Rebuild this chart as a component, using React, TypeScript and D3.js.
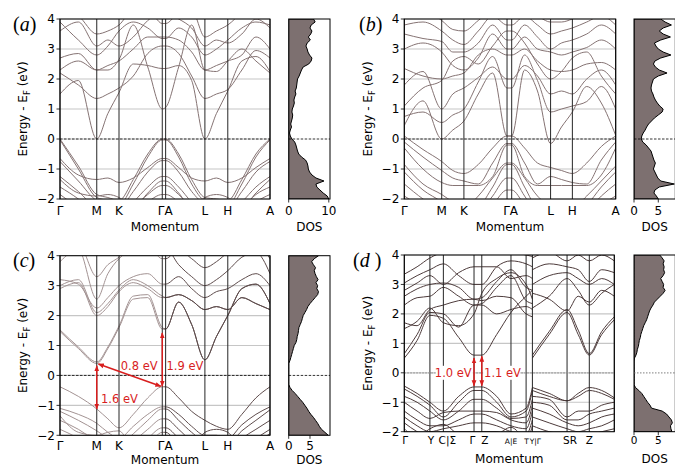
import React from "react";
import * as d3 from "d3";

// ---------------- data ----------------
const ENERGY_TICKS = [-2, -1, 0, 1, 2, 3, 4];
const E_GRID = d3.range(61).map((i) => -2 + i / 10);

const HEX_LABELS = ["Γ", "M", "K", "Γ", "A", "L", "H", "A"];
const HEX_TICK_IDX = [0, 2, 4, 7, 8, 11, 13, 16];
const K_AC = [0, 0.0875, 0.175, 0.228, 0.281, 0.349, 0.418, 0.487, 0.503, 0.565, 0.627, 0.69, 0.745, 0.799, 0.866, 0.933, 1.0];
const K_B = [0, 0.0885, 0.177, 0.2295, 0.282, 0.35, 0.418, 0.486, 0.508, 0.569, 0.63, 0.692, 0.7435, 0.795, 0.863, 0.932, 1.0];

const BANDS_A = [
  [1.5, 1.95, 0.0, 0.85, 1.55, 2.5, 2.45, 2.35, 2.35, 2.45, 1.95, 0.0, 0.85, 1.6, 2.6, 2.75, 2.25],
  [2.3, 2.6, 2.3, 2.3, 2.65, 3.8, 2.4, 1.0, 1.05, 2.4, 3.8, 2.3, 2.25, 2.6, 3.0, 2.6, 2.2],
  [2.2, 1.8, 1.35, 1.5, 1.7, 2.1, 2.85, 3.1, 3.1, 2.85, 2.1, 1.35, 1.5, 1.65, 2.3, 2.95, 2.7],
  [2.7, 2.85, 2.3, 2.45, 2.6, 3.0, 3.4, 3.4, 3.4, 3.3, 2.9, 2.3, 2.45, 2.6, 2.8, 3.4, 3.0],
  [3.9, 3.3, 2.8, 3.1, 3.6, 3.9, 3.7, 3.35, 3.35, 3.7, 3.4, 2.8, 3.0, 3.3, 3.7, 3.9, 3.8],
  [4.3, 4.1, 3.5, 3.6, 3.8, 4.3, 4.3, 3.85, 3.85, 4.2, 4.3, 3.4, 3.6, 3.8, 4.2, 4.4, 4.3],
  [3.6, 3.9, 3.1, 3.3, 3.1, 3.4, 3.95, 4.2, 4.2, 4.0, 3.7, 3.1, 3.3, 3.2, 3.5, 4.0, 3.7],
  [0, -0.9, -1.85, -1.95, -2.05, -1.35, -0.5, 0, 0, -0.5, -1.35, -1.95, -2.0, -2.05, -1.35, -0.5, 0],
  [-0.03, -1.0, -1.95, -2.05, -2.2, -1.5, -0.6, -0.03, -0.03, -0.6, -1.5, -2.05, -2.1, -2.2, -1.5, -0.6, -0.03],
  [-0.65, -1.2, -1.35, -1.3, -1.45, -1.3, -0.95, -0.65, -0.65, -0.95, -1.3, -1.4, -1.3, -1.45, -1.3, -0.95, -0.65],
  [-0.75, -1.4, -2.05, -2.15, -2.3, -1.75, -1.1, -0.72, -0.72, -1.1, -1.75, -2.15, -2.2, -2.3, -1.75, -1.1, -0.75],
  [-1.25, -1.75, -2.3, -2.4, -2.5, -2.1, -1.6, -1.25, -1.25, -1.6, -2.1, -2.4, -2.4, -2.5, -2.1, -1.6, -1.25],
  [-1.6, -2.0, -2.5, -2.6, -2.7, -2.3, -1.85, -1.55, -1.55, -1.85, -2.3, -2.6, -2.6, -2.7, -2.3, -1.85, -1.6],
  [-1.85, -2.3, -2.8, -2.8, -2.9, -2.5, -2.1, -1.85, -1.85, -2.1, -2.5, -2.8, -2.8, -2.9, -2.5, -2.1, -1.85],
  [-1.35, -1.8, -1.9, -1.85, -1.95, -2.3, -1.8, -1.4, -1.4, -1.8, -2.3, -1.95, -1.85, -1.95, -2.3, -1.8, -1.35],
];

const BANDS_B = [
  [0.45, 1.27, 0.0, 0.3, 0.6, 1.5, 2.2, 0.1, 0.1, 2.3, 1.6, -0.15, 0.4, 0.9, 1.75, 1.2, 0.12],
  [0.75, 0.9, 0.55, 0.8, 1.0, 1.9, 2.75, 1.7, 1.7, 2.8, 1.95, 0.9, 1.0, 1.1, 1.25, 1.75, 1.0],
  [1.8, 2.25, 1.0, 1.5, 1.7, 2.05, 2.4, 2.0, 2.0, 2.45, 2.1, 1.5, 1.6, 1.5, 2.0, 2.3, 1.8],
  [2.35, 2.1, 2.0, 2.1, 2.2, 2.8, 3.0, 2.8, 2.8, 3.0, 2.6, 2.3, 2.25, 2.3, 2.5, 2.55, 2.3],
  [3.0, 3.2, 2.9, 2.45, 2.3, 2.7, 3.5, 3.0, 3.0, 3.4, 3.0, 2.9, 2.8, 2.9, 3.05, 3.3, 3.0],
  [3.5, 3.35, 3.25, 2.9, 2.9, 3.2, 3.8, 3.3, 3.3, 3.8, 3.4, 3.0, 3.2, 3.3, 3.5, 3.8, 3.5],
  [3.8, 3.9, 3.6, 3.3, 3.15, 3.6, 4.1, 3.8, 3.8, 4.1, 3.8, 3.5, 3.6, 3.7, 3.9, 4.1, 3.8],
  [4.2, 4.3, 3.95, 3.65, 3.6, 3.95, 4.3, 4.1, 4.1, 4.3, 4.1, 3.9, 3.9, 4.0, 4.2, 4.4, 4.1],
  [1.1, 1.7, 1.95, 2.6, 2.75, 2.5, 3.1, 3.6, 3.6, 3.2, 2.5, 2.0, 2.25, 2.7, 2.9, 2.1, 1.5],
  [0.1, -0.35, -0.75, -1.05, -1.15, -0.85, -0.3, 0.1, 0.1, -0.3, -0.8, -0.95, -1.05, -1.15, -0.8, -0.25, 0.1],
  [-0.1, -0.6, -1.05, -1.3, -1.4, -1.5, -0.8, -0.15, -0.15, -0.8, -1.5, -1.25, -1.35, -1.45, -1.5, -0.7, -0.1],
  [-0.3, -1.0, -1.45, -1.55, -1.55, -1.55, -1.25, -0.2, -0.2, -1.25, -1.55, -1.55, -1.55, -1.55, -1.55, -1.2, -0.3],
  [-0.85, -1.5, -1.85, -2.1, -2.3, -1.9, -1.3, -0.8, -0.8, -1.3, -1.9, -2.2, -2.2, -2.3, -1.9, -1.4, -0.9],
  [-1.1, -1.7, -2.1, -2.4, -2.5, -2.3, -1.6, -0.85, -0.85, -1.6, -2.3, -2.4, -2.4, -2.5, -2.2, -1.6, -1.1],
  [-1.5, -2.0, -2.4, -2.6, -2.7, -2.5, -1.9, -1.3, -1.3, -1.9, -2.5, -2.6, -2.6, -2.7, -2.4, -1.9, -1.5],
  [-1.9, -2.3, -2.7, -2.8, -2.9, -2.7, -2.2, -1.7, -1.7, -2.2, -2.7, -2.8, -2.8, -2.9, -2.6, -2.2, -1.9],
];

const BANDS_C = [
  [1.47, 0.9, 0.4, 0.9, 1.6, 2.55, 2.6, 1.55, 1.55, 2.45, 1.7, 0.52, 1.3, 2.0, 2.9, 3.05, 2.4],
  [1.52, 0.95, 0.45, 0.95, 1.65, 2.65, 2.7, 1.6, 1.55, 2.45, 1.7, 0.52, 1.3, 2.0, 2.9, 3.05, 2.4],
  [2.9, 3.1, 2.0, 2.3, 2.8, 3.1, 2.9, 2.6, 2.6, 2.7, 2.5, 2.2, 2.3, 2.2, 2.6, 2.4, 2.2],
  [3.0, 3.2, 2.1, 2.4, 2.85, 3.2, 3.0, 2.65, 2.6, 2.7, 2.5, 2.2, 2.3, 2.2, 2.6, 2.4, 2.2],
  [3.2, 3.05, 2.25, 2.6, 3.0, 3.3, 3.4, 3.05, 3.05, 3.3, 2.9, 2.6, 2.8, 2.9, 3.2, 3.4, 3.0],
  [3.8, 4.2, 2.55, 3.4, 3.9, 4.2, 4.3, 3.9, 3.9, 4.2, 3.9, 3.6, 3.8, 4.1, 4.3, 4.4, 3.9],
  [4.3, 4.4, 3.3, 3.7, 3.95, 4.4, 4.5, 4.25, 4.25, 3.7, 3.3, 3.0, 3.2, 3.5, 3.95, 4.1, 3.4],
  [-0.38, -0.7, -1.12, -1.45, -1.75, -1.3, -0.75, -0.38, -0.38, -0.75, -1.2, -1.5, -1.7, -1.8, -1.3, -0.75, -0.38],
  [-1.1, -1.3, -1.6, -1.9, -2.1, -1.7, -1.3, -1.05, -1.05, -1.3, -1.7, -2.0, -2.0, -2.1, -1.65, -1.3, -1.05],
  [-1.2, -1.5, -1.85, -2.1, -2.3, -1.95, -1.5, -1.12, -1.12, -1.5, -1.9, -2.2, -2.2, -2.3, -1.85, -1.5, -1.15],
  [-1.5, -1.8, -2.2, -2.4, -2.5, -2.2, -1.8, -1.45, -1.45, -1.8, -2.2, -2.4, -2.4, -2.5, -2.1, -1.8, -1.5],
  [-1.8, -2.1, -2.5, -2.6, -2.7, -2.5, -2.1, -1.75, -1.75, -2.1, -2.5, -2.6, -2.6, -2.7, -2.4, -2.1, -1.8],
  [-1.35, -1.9, -2.0, -1.9, -1.85, -2.4, -2.3, -1.9, -1.9, -2.3, -2.5, -1.9, -1.8, -1.9, -2.4, -2.2, -1.95],
];

const D_LABELS = ["Γ", "Y", "C|Σ", "Γ", "Z", "A|E", "T", "Y|Γ", "SR", "Z", ""];
const D_TICKS = [0, 0.122, 0.186, 0.332, 0.369, 0.508, 0.58, 0.61, 0.775, 0.881, 1.0];
const D_SMALL = ["A|E", "T", "Y|Γ"];
const K_DL = [0, 0.061, 0.122, 0.186, 0.259, 0.332, 0.369, 0.44, 0.508, 0.58, 0.61];
const K_DR = [0.61, 0.69, 0.775, 0.828, 0.881, 0.94, 1.0];
const BANDS_DL = [
  [0.5, 1.1, 1.95, 1.85, 1.2, 0.6, 0.6, 1.3, 2.05, 2.6, 2.8],
  [0.65, 1.3, 2.05, 2.0, 1.55, 2.3, 2.3, 2.0, 2.15, 2.25, 2.15],
  [1.7, 1.6, 2.15, 2.3, 2.45, 2.5, 2.45, 2.6, 2.55, 2.0, 1.9],
  [2.3, 2.55, 2.6, 2.9, 2.6, 2.3, 2.35, 2.9, 3.3, 2.45, 2.35],
  [2.6, 2.85, 3.0, 3.05, 2.9, 2.5, 2.55, 3.1, 3.5, 2.9, 2.8],
  [2.8, 3.05, 3.3, 3.0, 3.4, 3.6, 3.6, 3.6, 3.2, 3.3, 3.2],
  [3.05, 3.3, 3.5, 3.7, 3.3, 3.0, 3.0, 3.6, 3.8, 3.7, 3.6],
  [3.35, 3.6, 3.9, 4.1, 4.2, 4.25, 4.25, 4.2, 4.1, 4.0, 3.95],
  [1.5, 1.75, 2.2, 1.7, 1.6, 2.0, 2.7, 3.2, 3.4, 3.0, 2.5],
  [-0.45, -0.7, -1.0, -1.3, -0.8, -0.48, -0.48, -0.8, -1.4, -1.2, -0.5],
  [-0.55, -0.8, -1.1, -1.5, -1.0, -0.6, -0.6, -1.0, -1.5, -1.3, -0.6],
  [-0.8, -1.0, -1.3, -1.6, -1.3, -0.9, -0.9, -1.2, -1.55, -1.5, -0.9],
  [-1.0, -1.3, -1.55, -1.35, -1.3, -1.3, -1.3, -1.35, -1.6, -1.7, -1.1],
  [-1.3, -1.6, -1.8, -1.8, -1.6, -1.4, -1.4, -1.6, -1.8, -1.9, -1.3],
  [-1.5, -1.8, -2.0, -1.9, -1.8, -1.7, -1.7, -1.8, -2.0, -2.1, -1.6],
  [-1.7, -2.0, -2.2, -2.1, -2.0, -2.0, -2.0, -2.0, -2.2, -2.3, -1.8],
  [-1.9, -2.2, -1.9, -1.75, -2.1, -2.2, -2.2, -2.1, -1.85, -2.2, -2.0],
];
const BANDS_DR = [
  [0.5, 1.3, 2.05, 1.3, 0.6, 1.3, 1.8],
  [0.6, 1.4, 2.15, 1.45, 0.65, 1.4, 1.9],
  [2.2, 2.6, 3.2, 2.8, 2.3, 2.7, 3.0],
  [2.7, 2.5, 2.1, 2.6, 2.4, 2.8, 2.6],
  [3.0, 3.3, 3.4, 3.2, 3.0, 3.2, 3.0],
  [3.5, 3.7, 3.6, 3.5, 3.1, 3.5, 3.4],
  [3.9, 4.1, 3.8, 4.0, 3.8, 4.0, 3.8],
  [-0.5, -0.7, -0.95, -0.7, -0.5, -0.6, -0.85],
  [-0.6, -0.8, -0.95, -0.8, -0.6, -0.7, -0.9],
  [-0.8, -0.9, -1.5, -1.3, -1.3, -1.1, -1.0],
  [-1.0, -1.1, -1.6, -1.6, -1.4, -1.3, -1.2],
  [-1.2, -1.4, -1.7, -1.8, -1.7, -1.5, -1.4],
  [-1.5, -1.7, -1.9, -2.0, -1.9, -1.8, -1.6],
  [-1.8, -2.0, -2.1, -2.2, -2.1, -2.0, -1.9],
];

// DOS sampled at E = -2.0 ... 4.0 (step 0.1)
const DOS_A = [
  10.0, 9.6, 8.6, 7.8, 7.0, 6.8, 8.8, 6.8, 5.8, 5.2,
  4.9, 4.8, 4.6, 4.2, 3.2, 2.5, 2.2, 2.0, 1.8, 1.5,
  0.8, 0.4, 0.2, 0.4, 0.7, 0.5, 0.7, 0.9, 1.0, 0.8,
  0.9, 1.2, 1.4, 1.3, 1.5, 1.8, 1.6, 1.9, 2.0, 2.1,
  2.2, 2.6, 2.9, 3.2, 3.6, 5.0, 5.6, 5.8, 5.2, 4.8,
  4.6, 4.3, 4.6, 5.4, 4.9, 5.5, 5.8, 5.3, 5.6, 6.6,
  6.2,
];
const DOS_B = [
  5.0, 4.6, 4.1, 4.3, 5.2, 8.3, 5.5, 4.9, 4.6, 4.3,
  4.0, 4.2, 4.4, 4.1, 3.9, 3.7, 3.5, 3.0, 2.5, 1.8,
  1.5, 1.6, 1.9, 2.3, 2.6, 3.0, 3.6, 4.2, 5.0, 5.8,
  6.0, 5.3, 4.8, 4.4, 4.1, 3.9, 3.6, 3.5, 3.6, 3.8,
  4.0, 5.0, 6.8, 5.2, 4.4, 4.0, 4.3, 5.5, 7.6, 6.0,
  5.0, 4.5, 4.2, 5.5, 7.5, 6.0, 5.2, 6.0, 7.7, 6.4,
  5.5,
];
const DOS_C = [
  9.3, 8.5, 7.7, 7.2, 6.8, 6.3, 5.8, 5.2, 4.7, 4.3,
  3.8, 3.3, 2.7, 2.1, 1.5, 0.8, 0.3, 0, 0, 0,
  0, 0, 0, 0, 0, 0.3, 0.5, 0.7, 0.9, 1.1,
  1.3, 1.7, 1.9, 2.0, 2.2, 2.3, 2.4, 2.7, 3.0, 3.2,
  3.4, 3.8, 4.2, 4.5, 5.0, 5.6, 6.2, 6.8, 7.0, 6.6,
  6.8, 6.4, 6.9, 6.5, 6.2, 6.0, 6.3, 5.8, 5.4, 6.0,
  7.0,
];
const DOS_D = [
  7.8, 7.6, 7.5, 7.9, 7.7, 7.2, 6.7, 5.8, 3.6, 3.3,
  2.8, 2.4, 2.0, 1.6, 1.0, 0.3, 0, 0, 0, 0,
  0, 0, 0, 0, 0, 0.1, 0.4, 0.6, 0.7, 0.9,
  1.0, 1.1, 1.3, 1.4, 1.6, 1.8, 2.0, 2.3, 2.6, 2.8,
  3.0, 3.2, 3.5, 3.9, 4.2, 4.8, 5.4, 6.0, 6.4, 6.0,
  6.1, 5.8, 5.5, 6.0, 6.3, 6.1, 6.2, 6.0, 6.2, 5.8,
  5.3,
];

// gap annotations: [k1, E1, k2, E2]
const ARROWS_C = [
  [0.175, -1.12, 0.175, 0.32],
  [0.183, 0.38, 0.48, -0.36],
  [0.487, -0.36, 0.487, 1.42],
];
const NOTES_C = [
  { text: "1.6 eV", k: 0.195, e: -0.8, anchor: "start" },
  { text: "0.8 eV", k: 0.377, e: 0.3, anchor: "middle" },
  { text: "1.9 eV", k: 0.507, e: 0.3, anchor: "start" },
];
const ARROWS_D = [
  [0.332, -0.44, 0.332, 0.5],
  [0.369, -0.44, 0.369, 0.56],
];
const NOTES_D = [
  { text: "1.0 eV", k: 0.321, e: 0, anchor: "end" },
  { text: "1.1 eV", k: 0.38, e: 0, anchor: "start" },
];

// ---------------- drawing ----------------
type Band = { k: number[]; e: number[] };
type Note = { text: string; k: number; e: number; anchor: string };

interface PanelCfg {
  id: string;
  letter: string;
  x0: number; x1: number; y0: number; y1: number;
  dx0: number; dosMax: number; dosTicks: number[];
  bands: Band[];
  ticks: number[];
  labels: string[];
  labelDx?: number[];
  small?: string[];
  labelSize: number;
  labelGap: number;
  titleGap: number;
  dos: number[];
  stroke: string;
  zeroStroke: string;
  zeroDash: string;
  zeroWidth: number;
  ylabelX: number;
  letterX: number; letterY: number;
  arrows?: number[][];
  notes?: Note[];
  noteBg?: boolean;
}

const DOS_W = 41.3;
const RED = "#d81e1e";

function Panel({ p }: { p: PanelCfg }) {
  const x = d3.scaleLinear().domain([0, 1]).range([p.x0, p.x1]);
  const y = d3.scaleLinear().domain([-2, 4]).range([p.y1, p.y0]);
  const xd = d3.scaleLinear().domain([0, p.dosMax]).range([p.dx0, p.dx0 + DOS_W]);
  const line = d3
    .line<[number, number]>()
    .x((d) => x(d[0]))
    .y((d) => y(d[1]))
    .curve(d3.curveMonotoneX);
  const area = d3
    .area<number>()
    .y((_, i) => y(E_GRID[i]))
    .x0(xd(0))
    .x1((d) => xd(d));
  const tickPx = p.ticks.map((t) => x(t));
  const ph = p.y1 - p.y0;
  const labelY = p.y1 + p.labelGap;
  const titleY = p.y1 + p.titleGap;

  return (
    <g>
      <defs>
        <clipPath id={`clip-${p.id}`}>
          <rect x={p.x0} y={p.y0} width={p.x1 - p.x0} height={ph} />
        </clipPath>
        <clipPath id={`clipd-${p.id}`}>
          <rect x={p.dx0} y={p.y0} width={DOS_W} height={ph} />
        </clipPath>
      </defs>
      {ENERGY_TICKS.map((e) => (
        <line key={e} x1={p.x0} x2={p.x1} y1={y(e)} y2={y(e)} stroke="#c6c6c6" strokeWidth={1.2} />
      ))}
      <g clipPath={`url(#clip-${p.id})`}>
        {p.bands.map((b, i) => (
          <path
            key={i}
            d={line(b.k.map((k, j) => [k, b.e[j]] as [number, number])) || ""}
            fill="none"
            stroke={p.stroke}
            strokeWidth={1}
          />
        ))}
      </g>
      {tickPx.map((px, i) => (
        <line key={i} x1={px} x2={px} y1={p.y0} y2={p.y1} stroke="#262626" strokeWidth={1} />
      ))}
      <line x1={p.x0} x2={p.x1} y1={y(0)} y2={y(0)} stroke={p.zeroStroke} strokeWidth={p.zeroWidth} strokeDasharray={p.zeroDash} />
      <rect x={p.x0} y={p.y0} width={p.x1 - p.x0} height={ph} fill="none" stroke="#000" strokeWidth={1} />
      {ENERGY_TICKS.map((e) => (
        <g key={e}>
          <line x1={p.x0 - 3.5} x2={p.x0} y1={y(e)} y2={y(e)} stroke="#000" strokeWidth={0.8} />
          <text x={p.x0 - 5} y={y(e) + 4.3} textAnchor="end" fontSize={12}>
            {e < 0 ? `\u2212${-e}` : `${e}`}
          </text>
        </g>
      ))}
      {p.labels.map((lab, i) => {
        const px = tickPx[i];
        let anchor = "middle";
        let tx = px;
        if (i + 1 < tickPx.length && tickPx[i + 1] - px < 7) {
          anchor = "end";
          tx = (px + tickPx[i + 1]) / 2 + 0.5;
        } else if (i > 0 && px - tickPx[i - 1] < 7) {
          anchor = "start";
          tx = (px + tickPx[i - 1]) / 2 + 0.5;
        }
        if (p.labelDx) tx += p.labelDx[i];
        const small = p.small && p.small.includes(lab);
        return (
          <text key={i} x={tx} y={labelY} textAnchor={anchor} fontSize={small ? 7.5 : p.labelSize}>
            {lab}
          </text>
        );
      })}
      <text x={(p.x0 + p.x1) / 2} y={titleY} textAnchor="middle" fontSize={12}>
        Momentum
      </text>
      <text transform={`translate(${p.ylabelX},${(p.y0 + p.y1) / 2}) rotate(-90)`} textAnchor="middle" fontSize={12}>
        Energy - E
        <tspan fontSize={8.5} dy={2.5}>F</tspan>
        <tspan dy={-2.5}> (eV)</tspan>
      </text>
      <text x={p.letterX} y={p.letterY} fontSize={20} fontFamily="Liberation Serif, DejaVu Serif, serif">
        (<tspan fontStyle="italic">{p.letter}</tspan>
        {p.id === "d" ? " )" : ")"}
      </text>
      <g clipPath={`url(#clipd-${p.id})`}>
        <path d={area(p.dos) || ""} fill="#7d7070" stroke="#000" strokeWidth={1} />
      </g>
      <line x1={p.dx0} x2={p.dx0 + DOS_W} y1={y(0)} y2={y(0)} stroke={p.zeroStroke} strokeWidth={p.zeroWidth} strokeDasharray={p.zeroDash} />
      <rect x={p.dx0} y={p.y0} width={DOS_W} height={ph} fill="none" stroke="#000" strokeWidth={1} />
      {p.dosTicks.map((t) => (
        <g key={t}>
          <line x1={xd(t)} x2={xd(t)} y1={p.y1} y2={p.y1 + 3.5} stroke="#000" strokeWidth={0.8} />
          <text x={xd(t)} y={labelY} textAnchor="middle" fontSize={p.labelSize}>
            {t}
          </text>
        </g>
      ))}
      <text x={p.dx0 + DOS_W / 2} y={titleY} textAnchor="middle" fontSize={12}>
        DOS
      </text>
      {p.arrows &&
        p.arrows.map((a, i) => (
          <line
            key={i}
            x1={x(a[0])}
            y1={y(a[1])}
            x2={x(a[2])}
            y2={y(a[3])}
            stroke={RED}
            strokeWidth={1.5}
            markerStart="url(#arrowRed)"
            markerEnd="url(#arrowRed)"
          />
        ))}
      {p.notes &&
        p.notes.map((n, i) => {
          const w = 35;
          const tx = x(n.k);
          const bx = n.anchor === "end" ? tx - w : n.anchor === "start" ? tx : tx - w / 2;
          return (
            <g key={i}>
              {p.noteBg && <rect x={bx - 1} y={y(n.e) - 7} width={w + 2} height={14} fill="#fff" />}
              <text x={tx} y={y(n.e) + 4} textAnchor={n.anchor as any} fontSize={11.5} fill={RED}>
                {n.text}
              </text>
            </g>
          );
        })}
    </g>
  );
}

const hexBands = (k: number[], arr: number[][]): Band[] => arr.map((e) => ({ k, e }));

export default function App() {
  const panels: PanelCfg[] = [
    {
      id: "a", letter: "a", x0: 60, x1: 270, y0: 19, y1: 199, dx0: 288.7, dosMax: 10.3, dosTicks: [0, 10],
      bands: hexBands(K_AC, BANDS_A), ticks: HEX_TICK_IDX.map((i) => K_AC[i]), labels: HEX_LABELS,
      labelSize: 12, labelGap: 16, titleGap: 32, dos: DOS_A, stroke: "#857373", zeroStroke: "#000", zeroDash: "2.5,1.5", zeroWidth: 0.8,
      ylabelX: 27, letterX: 13, letterY: 31,
    },
    {
      id: "b", letter: "b", x0: 404.3, x1: 615.7, y0: 19, y1: 199, dx0: 634, dosMax: 8.5, dosTicks: [0, 5],
      bands: hexBands(K_B, BANDS_B), ticks: HEX_TICK_IDX.map((i) => K_B[i]), labels: HEX_LABELS,
      labelSize: 12, labelGap: 16, titleGap: 32, dos: DOS_B, stroke: "#857373", zeroStroke: "#000", zeroDash: "2.5,1.5", zeroWidth: 0.8,
      ylabelX: 372, letterX: 359, letterY: 31,
    },
    {
      id: "c", letter: "c", x0: 60, x1: 270, y0: 255.7, y1: 435.3, dx0: 288.7, dosMax: 9.7, dosTicks: [0, 5],
      bands: hexBands(K_AC, BANDS_C), ticks: HEX_TICK_IDX.map((i) => K_AC[i]), labels: HEX_LABELS,
      labelSize: 12, labelGap: 15, titleGap: 29, dos: DOS_C, stroke: "url(#gradC)", zeroStroke: "#000", zeroDash: "2.5,1.5", zeroWidth: 0.8,
      ylabelX: 27, letterX: 13, letterY: 267, arrows: ARROWS_C, notes: NOTES_C,
    },
    {
      id: "d", letter: "d", x0: 404.3, x1: 614.3, y0: 255, y1: 431.7, dx0: 634, dosMax: 8.5, dosTicks: [0, 5],
      bands: [...hexBands(K_DL, BANDS_DL), ...hexBands(K_DR, BANDS_DR)], ticks: D_TICKS, labels: D_LABELS, small: D_SMALL,
      labelDx: [1, 1, 4, -1.5, 3, 0, -1, 0, 3, 0, 0],
      labelSize: 10.5, labelGap: 12, titleGap: 31.5, dos: DOS_D, stroke: "#4d3b3b", zeroStroke: "#999", zeroDash: "1.5,1.5", zeroWidth: 1.3,
      ylabelX: 372, letterX: 353, letterY: 267, arrows: ARROWS_D, notes: NOTES_D, noteBg: true,
    },
  ];
  return (
    <svg
      width={675}
      height={468}
      style={{ position: "absolute", left: 0, top: 0, background: "#fff" }}
      fontFamily="DejaVu Sans, sans-serif"
    >
      <defs>
        <marker id="arrowRed" viewBox="0 0 10 10" refX="9" refY="5" markerWidth="6" markerHeight="6" markerUnits="userSpaceOnUse" orient="auto-start-reverse">
          <path d="M0,1 L10,5 L0,9 z" fill={RED} />
        </marker>
        <linearGradient id="gradC" gradientUnits="userSpaceOnUse" x1={60} x2={270} y1={0} y2={0}>
          <stop offset="0" stopColor="#a29292" />
          <stop offset="0.488" stopColor="#a29292" />
          <stop offset="0.5" stopColor="#5e4c4c" />
          <stop offset="1" stopColor="#5e4c4c" />
        </linearGradient>
      </defs>
      <rect x={0} y={0} width={675} height={468} fill="#fff" />
      {panels.map((p) => (
        <Panel key={p.id} p={p} />
      ))}
    </svg>
  );
}
